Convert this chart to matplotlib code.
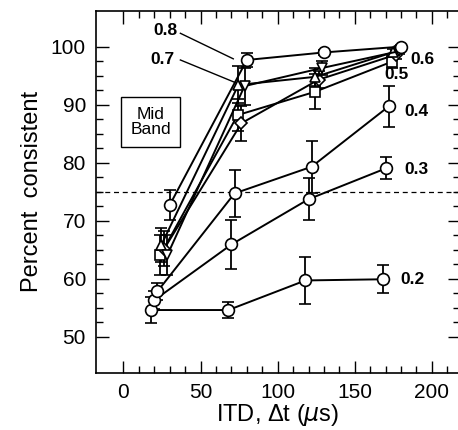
import numpy as np
import matplotlib.pyplot as plt
from matplotlib.ticker import FixedLocator

plt.rcParams['font.family'] = ['Liberation Sans', 'DejaVu Sans']

# ITD values (us) and per-series horizontal offsets
itd = np.array([20, 70, 120, 170])

# percent consistent, per series (label, marker)
p02 = [54.6, 54.6, 59.7, 59.9]
e02 = [2.3, 1.3, 4.0, 2.4]
p03 = [56.3, 65.9, 73.7, 79.0]
e03 = [1.5, 4.3, 3.6, 1.9]
p04 = [57.8, 74.7, 79.3, 89.7]
e04 = [1.5, 4.0, 4.5, 3.6]
p05 = [64.1, 88.2, 92.2, 97.4]
e05 = [3.5, 2.8, 3.0, 1.0]
p06 = [65.2, 86.8, 94.3, 98.6]
e06 = [3.0, 3.0, 1.5, 0.8]
p07a = [65.8, 93.4, 94.8, 99.0]
e07a = [3.0, 3.2, 1.5, 0.6]
p07b = [64.1, 93.2, 96.3, 99.2]
e07b = [3.5, 3.2, 1.2, 0.5]
p08 = [72.7, 97.7, 99.0, 100.0]
e08 = [2.6, 1.2, 0.4, 0.3]

series = [
    (p02, e02, -2, 'o'),
    (p03, e03, 0, 'o'),
    (p04, e04, 2, 'o'),
    (p05, e05, 4, 's'),
    (p06, e06, 6.5, 'D'),
    (p07a, e07a, 4.5, '^'),
    (p07b, e07b, 8.5, 'v'),
    (p08, e08, 10, 'o'),
]

labels = ['0.8', '0.7', '0.6', '0.5', '0.4', '0.3', '0.2']
label_x = [27, 25, 194, 177.3, 190, 190, 187.5]
label_y = [102.7, 97.7, 97.8, 95.2, 88.8, 78.9, 59.8]

fig = plt.figure(figsize=(4.58, 4.30), dpi=100)
ax = fig.add_axes([0.209, 0.1326, 0.7946, 0.8426])

for vals, errs, off, mk in series:
    ms = 8.5 if mk == 'o' else 7.5
    if mk == 'D':
        ms = 6.5
    ax.errorbar(itd + off, vals, yerr=errs, color='black', lw=1.4,
                marker=mk, ms=ms, mfc='white', mec='black', mew=1.2,
                capsize=4, elinewidth=1.3, capthick=1.3, zorder=3)

ax.axhline(75, color='black', lw=0.9, ls=(0, (4, 3)), zorder=1)

for t, x, y in zip(labels, label_x, label_y):
    ax.text(x, y, t, ha='center', va='center', fontsize=12.5, fontweight='bold')

# leader lines for 0.8 and 0.7
ax.plot([36.9, 71.2], [102.3, 97.9], color='black', lw=1.0)
ax.plot([36.9, 73.5], [97.7, 93.7], color='black', lw=1.0)

ax.text(17.6, 87.0, 'Mid\nBand', ha='center', va='center', fontsize=12.5,
        linespacing=1.05,
        bbox=dict(boxstyle='square,pad=0.55', fc='white', ec='black', lw=1.0))

ax.set_xlim(-18, 218)
ax.set_ylim(43.75, 106.2)
ax.set_xticks([0, 50, 100, 150, 200])
ax.set_yticks([50, 60, 70, 80, 90, 100])
ax.xaxis.set_minor_locator(FixedLocator(np.arange(0, 211, 10)))
ax.yaxis.set_minor_locator(FixedLocator(np.arange(50, 100.1, 2.5)))
ax.tick_params(which='both', direction='in', top=True, right=True,
               labelsize=15, width=1.0)
ax.tick_params(which='major', length=9, pad=7)
ax.tick_params(which='minor', length=5)
for s in ax.spines.values():
    s.set_linewidth(1.2)

ax.set_xlabel('ITD, \u0394t ($\\mu$s)', fontsize=17, labelpad=0)
ax.set_ylabel('Percent  consistent', fontsize=17, labelpad=6)

fig.savefig('out.png', dpi=100)
